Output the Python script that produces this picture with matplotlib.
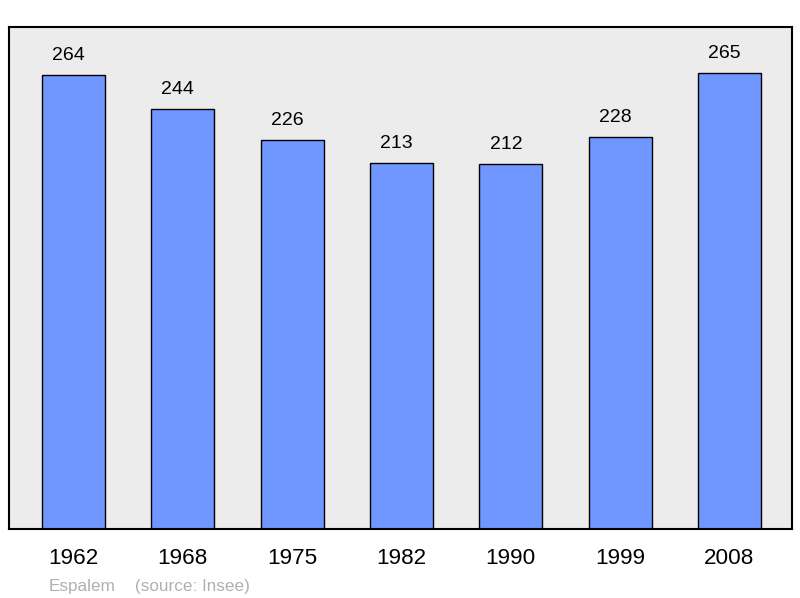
import matplotlib
matplotlib.use("Agg")
import matplotlib.pyplot as plt

years = ["1962", "1968", "1975", "1982", "1990", "1999", "2008"]
population = [264, 244, 226, 213, 212, 228, 265]
commune = "Espalem"
source = "(source: Insee)"

plt.rcParams['font.family'] = ['Liberation Sans', 'DejaVu Sans']

W, H = 800, 598
fig = plt.figure(figsize=(W / 100, H / 100), dpi=100)
fig.patch.set_facecolor("white")
ax = fig.add_axes([8.5 / W, 1 - 528.5 / H, (792 - 8.5) / W, (528.5 - 27) / H])
ax.set_facecolor("#ececec")

x = list(range(len(years)))
bars = ax.bar(x, population, width=0.576, color="#7096ff", edgecolor="black",
              linewidth=1.0, zorder=2)
for xi, v in zip(x, population):
    ax.annotate(str(v), xy=(xi, v), xytext=(-5, 15), textcoords="offset pixels",
                ha="center", va="baseline", fontsize=14, color="black")

ax.set_xlim(-0.595, 6.572)
ax.set_ylim(0, 292)
ax.set_yticks([])
ax.set_xticks(x)
ax.set_xticklabels(years, fontsize=16.2)
ax.tick_params(axis="x", length=0, pad=14)
for s in ax.spines.values():
    s.set_linewidth(1.5)
    s.set_color("black")

fig.text(49 / W, 1 - 590.5 / H, commune, fontsize=12.3, color="#b0b0b0",
         ha="left", va="baseline")
fig.text(135 / W, 1 - 590.5 / H, source, fontsize=12.3, color="#b0b0b0",
         ha="left", va="baseline")

fig.savefig("out.png", dpi=100)
